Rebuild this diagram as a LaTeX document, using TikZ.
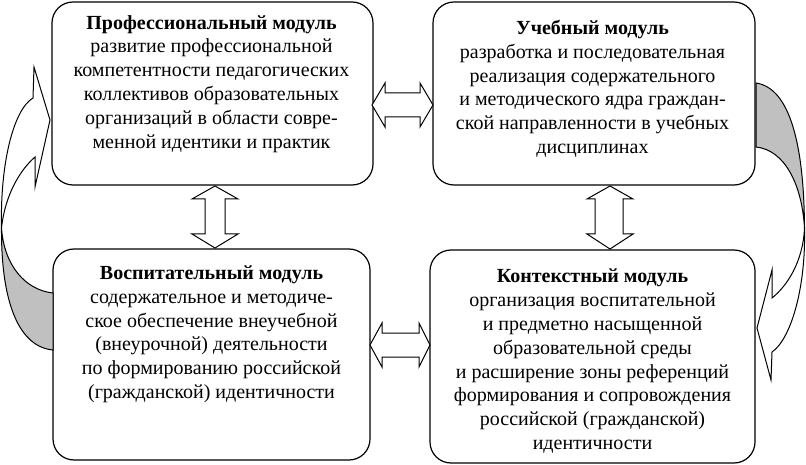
\documentclass[tikz,border=0pt]{standalone}
\usepackage{fontspec}
\setmainfont{Liberation Serif}
\definecolor{shade}{RGB}{192,192,192}
\tikzset{
  modbox/.style={draw=black, line width=1.2pt, rounded corners=21pt, fill=white, inner sep=0pt},
  modtext/.style={anchor=north, align=center, inner sep=0pt, font=\fontsize{20}{23.8}\selectfont},
  blockarrow/.style={draw=black, line width=1pt, fill=white, line join=miter},
  backpart/.style={draw=black, line width=1pt, fill=shade},
  frontpart/.style={draw=black, line width=1pt, fill=white, line join=miter}
}
\begin{document}
\begin{tikzpicture}[x=1pt,y=-1pt]
\useasboundingbox (0,0) rectangle (806,465);
% boxes
\node[modbox, minimum width=321pt, minimum height=183pt] (b1) at (212.5,93.5) {};
\node[modbox, minimum width=322pt, minimum height=183pt] (b2) at (594,93.5) {};
\node[modbox, minimum width=317pt, minimum height=211pt] (b3) at (211.5,354.5) {};
\node[modbox, minimum width=325pt, minimum height=213pt] (b4) at (592.5,356.5) {};
% texts
\node[modtext] (t1) at (211.5,15) {\textbf{Профессиональный модуль}\\развитие профессиональной\\компетентности педагогических\\коллективов образовательных\\организаций в области совре-\\менной идентики и практик};
\node[modtext] (t2) at (592.5,20) {\textbf{Учебный модуль}\\разработка и последовательная\\реализация содержательного\\и методического ядра граждан-\\ской направленности в учебных\\дисциплинах};
\node[modtext] (t3) at (211.5,265.5) {\textbf{Воспитательный модуль}\\содержательное и методиче-\\ское обеспечение внеучебной\\(внеурочной) деятельности\\по формированию российской\\(гражданской) идентичности};
\node[modtext] (t4) at (592.5,269) {\textbf{Контекстный модуль}\\организация воспитательной\\и предметно насыщенной\\образовательной среды\\и расширение зоны референций\\формирования и сопровождения\\российской (гражданской)\\идентичности};
% double block arrows
\draw[blockarrow] (372,105) -- (385,83) -- (385,93) -- (420,93) -- (420,83) -- (433,105) -- (420,127) -- (420,117) -- (385,117) -- (385,127) -- cycle;
\draw[blockarrow] (370,345) -- (382,323) -- (382,333) -- (419,333) -- (419,323) -- (430,345) -- (419,367) -- (419,357) -- (382,357) -- (382,367) -- cycle;
\draw[blockarrow] (215,186) -- (238,199) -- (225,199) -- (225,234) -- (238,234) -- (215,248) -- (192,234) -- (205,234) -- (205,199) -- (192,199) -- cycle;
\draw[blockarrow] (610,186) -- (633,199) -- (623,199) -- (623,234) -- (633,234) -- (610,249) -- (587,234) -- (595,234) -- (595,199) -- (587,199) -- cycle;
% left curved arrow
\draw[backpart] (53,293) .. controls (25,290) and (4,265) .. (1.5,228) .. controls (1,305) and (20,347) .. (53,350) -- cycle;
\draw[frontpart] (33,98) -- (34,67) -- (50,120) -- (35,187) -- (35,157) .. controls (20,170) and (5,195) .. (1.5,228) .. controls (0,165) and (13,110) .. cycle;
% right curved arrow
\draw[backpart] (756,83) .. controls (790,88) and (804,145) .. (804.5,228) .. controls (802,185) and (785,150) .. (756,147) -- cycle;
\draw[frontpart] (772,298) -- (772,270) -- (757,328) -- (771,380) -- (772,352) .. controls (790,340) and (806,290) .. (804.5,228) .. controls (803,262) and (787,286) .. cycle;
\end{tikzpicture}
\end{document}
